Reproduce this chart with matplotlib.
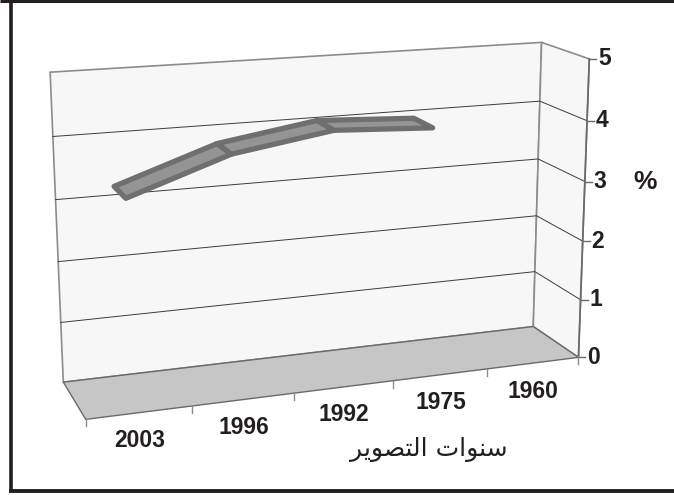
import numpy as np
import matplotlib
matplotlib.use("Agg")
import matplotlib.pyplot as plt
from matplotlib.patches import Polygon

# ---------------- data ----------------
categories = ["2003", "1996", "1992", "1975", "1960"]
values = [3.25, 3.8, 4.05, 3.97, np.nan]          # percent; 1960 has no value
y_ticks = [0, 1, 2, 3, 4, 5]
y_label = "%"
x_title = "سنوات التصوير"

# ---------------- helpers ----------------
def shape_arabic(txt):
    # contextual (presentation) forms for this title, displayed left-to-right
    forms = {
        "سنوات": "\uFEB3\uFEE8\uFEEE\uFE8D\uFE95",
        "التصوير": "\uFE8D\uFEDF\uFE98\uFEBC\uFEEE\uFEF3\uFEAE",
    }
    words = [forms.get(w, w)[::-1] for w in txt.split(" ")]
    return " ".join(words[::-1])

# layout anchors for the 3D box: (category-x, value, depth) -> pixel
anchors_world = [(0, 0, 1), (5, 0, 1), (0, 5, 1), (5, 5, 1), (5, 5, 0), (5, 0, 0),
                 (0, 0, 0), (1, 0, 0), (2, 0, 0), (3, 0, 0), (4, 0, 0),
                 (5, 4, 1), (5, 4, 0), (0, 4, 1)]
anchors_pix = [(63, 382), (533, 326), (50, 72), (542, 42), (588, 59), (578, 356),
               (85, 417), (193, 407), (295, 394), (392, 382), (488, 370),
               (540, 102), (588, 120), (53, 137)]

def fit_camera(world, pix):
    rows = []
    for (X, Y, Z), (u, v) in zip(world, pix):
        u, v = u / 100.0, v / 100.0
        rows.append([X, Y, Z, 1, 0, 0, 0, 0, -u * X, -u * Y, -u * Z, -u])
        rows.append([0, 0, 0, 0, X, Y, Z, 1, -v * X, -v * Y, -v * Z, -v])
    _, _, vt = np.linalg.svd(np.array(rows, float))
    return vt[-1].reshape(3, 4)

P = fit_camera(anchors_world, anchors_pix)

def proj(x, v, d):
    h = P @ np.array([x, v, d, 1.0])
    return 100.0 * h[0] / h[2], 100.0 * h[1] / h[2]

def poly(pts):
    return [proj(*p) for p in pts]

# ---------------- figure ----------------
W, H = 674, 495
fig = plt.figure(figsize=(W / 100, H / 100), dpi=100)
ax = fig.add_axes([0, 0, 1, 1])
ax.set_xlim(0, W)
ax.set_ylim(H, 0)
ax.axis("off")

ncat = len(categories)
vmax = y_ticks[-1]
wall_c = "#f7f7f7"
floor_c = "#c6c6c6"
edge_c = "#8c8c8c"
grid_c = "#3c3c3c"

# walls and floor
ax.add_patch(Polygon(poly([(0, 0, 1), (ncat, 0, 1), (ncat, vmax, 1), (0, vmax, 1)]),
                     closed=True, fc=wall_c, ec=edge_c, lw=1.2, zorder=1))
ax.add_patch(Polygon(poly([(ncat, 0, 1), (ncat, vmax, 1), (ncat, vmax, 0), (ncat, 0, 0)]),
                     closed=True, fc=wall_c, ec=edge_c, lw=1.2, zorder=1))
ax.add_patch(Polygon(poly([(0, 0, 0), (ncat, 0, 0), (ncat, 0, 1), (0, 0, 1)]),
                     closed=True, fc=floor_c, ec="#6a6a6a", lw=1.0, zorder=1))

# gridlines
for t in y_ticks[1:-1]:
    pts = poly([(0, t, 1), (ncat, t, 1), (ncat, t, 0)])
    ax.plot([p[0] for p in pts], [p[1] for p in pts], color=grid_c, lw=0.7, zorder=2)

# value axis
p0, p1 = proj(ncat, 0, 0), proj(ncat, vmax, 0)
ax.plot([p0[0], p1[0]], [p0[1], p1[1]], color="#6a6a6a", lw=1.2, zorder=3)
for t in y_ticks:
    x0, y0 = proj(ncat, t, 0)
    ax.plot([x0, x0 + 7], [y0, y0], color="#6a6a6a", lw=1.0, zorder=3)
    ax.text(x0 + 9, y0, str(t), ha="left", va="center", fontsize=16.5,
            fontweight="bold", family="Liberation Sans", color="#231f20")
xm, ym = proj(ncat, vmax * 0.6, 0)
ax.text(645, ym, y_label, ha="center", va="center", fontsize=19,
        fontweight="bold", family="Liberation Sans", color="#231f20")

# category axis
for k in range(ncat + 1):
    x0, y0 = proj(k, 0, 0)
    ax.plot([x0, x0], [y0, y0 + 7], color="#8c8c8c", lw=1.0, zorder=3)
for i, lab in enumerate(categories):
    x0, y0 = proj(i + 0.5, 0, 0)
    ax.text(x0, y0 + 28, lab, ha="center", va="center", fontsize=16.5,
            fontweight="bold", family="Liberation Sans", color="#231f20")
ax.text(429, 450, shape_arabic(x_title), ha="center", va="center", fontsize=18,
        family="DejaVu Sans", color="#231f20")

# ribbon line
d_front, d_back = 0.27, 0.73
xs = [i + 0.5 for i in range(ncat)]
for i in range(ncat - 1):
    v0, v1 = values[i], values[i + 1]
    if np.isnan(v0) or np.isnan(v1):
        continue
    pts = poly([(xs[i], v0, d_front), (xs[i + 1], v1, d_front),
                (xs[i + 1], v1, d_back), (xs[i], v0, d_back)])
    ax.add_patch(Polygon(pts, closed=True, fc="#949494", ec="#6f6f6f", lw=3.8,
                         joinstyle="round", zorder=4))

# outer frame
fc = "#231f20"
ax.plot([10.5, 10.5], [0, 492], color=fc, lw=2.6, solid_capstyle="butt", zorder=10)
ax.plot([0, W], [1.2, 1.2], color=fc, lw=2.2, solid_capstyle="butt", zorder=10)
ax.plot([9, W], [491, 491], color=fc, lw=2.8, solid_capstyle="butt", zorder=10)

fig.savefig("out.png", dpi=100)
